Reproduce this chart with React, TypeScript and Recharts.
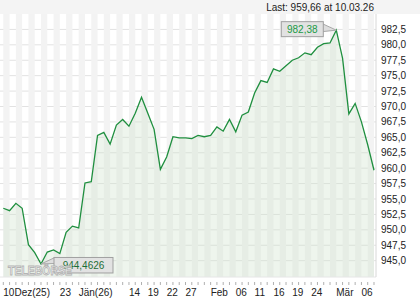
import { Area, CartesianGrid, ComposedChart, ReferenceArea, ReferenceDot, XAxis, YAxis } from "recharts";

const dates = [
  "10.12.25", "11.12.25", "12.12.25", "15.12.25", "16.12.25", "17.12.25", "18.12.25", "19.12.25", "22.12.25", "23.12.25",
  "29.12.25", "30.12.25", "02.01.26", "05.01.26", "06.01.26", "07.01.26", "08.01.26", "09.01.26", "12.01.26", "13.01.26",
  "14.01.26", "15.01.26", "16.01.26", "19.01.26", "20.01.26", "21.01.26", "22.01.26", "23.01.26", "26.01.26", "27.01.26",
  "28.01.26", "29.01.26", "30.01.26", "02.02.26", "03.02.26", "04.02.26", "05.02.26", "06.02.26", "09.02.26", "10.02.26",
  "11.02.26", "12.02.26", "13.02.26", "16.02.26", "17.02.26", "18.02.26", "19.02.26", "20.02.26", "23.02.26", "24.02.26",
  "25.02.26", "26.02.26", "27.02.26", "02.03.26", "03.03.26", "04.03.26", "05.03.26", "06.03.26", "09.03.26", "10.03.26",
];

const closes = [
  953.5, 953.1, 954.3, 953.5, 947.6, 946.3, 944.4626, 946.4, 946.75, 946.15,
  949.6, 950.6, 950.3, 957.6, 957.8, 965.3, 965.8, 963.9, 967.0, 967.9,
  966.8, 968.9, 971.5, 968.9, 966.3, 959.8, 961.8, 965.1, 964.9, 964.9,
  964.8, 965.3, 965.1, 965.3, 966.7, 966.0, 967.9, 965.9, 968.6, 969.1,
  972.2, 974.2, 973.9, 976.1, 975.7, 976.6, 977.5, 977.9, 978.7, 978.4,
  979.6, 980.2, 980.3, 982.38, 977.8, 968.8, 970.5, 967.5, 963.8, 959.66,
];

const tickIndex = [0, 9, 12, 20, 23, 26, 29, 33, 37, 40, 43, 46, 49, 53, 57];
const tickLabels = ["10Dez(25)", "23", "Jän(26)", "14", "19", "22", "27", "Feb", "06", "11", "16", "19", "24", "Mär", "06"];

const yTicks = [945, 947.5, 950, 952.5, 955, 957.5, 960, 962.5, 965, 967.5, 970, 972.5, 975, 977.5, 980, 982.5];

const FONT = "'Liberation Sans', Arial, sans-serif";
const GREEN = "#1f8f3f";

const data = closes.map((v, i) => ({ i, date: dates[i], v }));
const indices = data.map((d) => d.i);
// every other trading day gets a grey column
const stripeStarts = indices.filter((i) => i % 2 === 0 && i < indices.length - 1);
const maxIdx = closes.indexOf(Math.max(...closes));
const minIdx = closes.indexOf(Math.min(...closes));
const lastIdx = closes.length - 1;

const fmt = (v: number) => String(v).replace(".", ",");

function XTick(props: any) {
  const { x, payload } = props;
  const k = tickIndex.indexOf(payload.value);
  return (
    <g>
      <line x1={x} x2={x} y1={282} y2={285} stroke="#b0b0b0" />
      {k >= 0 && (
        <text x={x} y={295.5} fontSize={10} fontFamily={FONT} fill="#222" textAnchor="start">
          {tickLabels[k]}
        </text>
      )}
    </g>
  );
}

function MaxLabel(props: any) {
  const { cx, cy } = props;
  const left = cx - 55;
  const top = cy - 8.5;
  return (
    <g>
      <polygon points={`${cx - 14},${top + 2} ${cx},${cy} ${cx - 14},${top + 10}`} fill="#dedede" stroke="#a8a8a8" />
      <rect x={left} y={top} width={42} height={15} fill="#e2e2e2" stroke="#a0a0a0" />
      <text x={left + 21} y={top + 11} fontSize={10} fontFamily={FONT} fill="#1a9a45" textAnchor="middle">
        {fmt(closes[maxIdx])}
      </text>
    </g>
  );
}

function MinLabel(props: any) {
  const { cx, cy } = props;
  const left = cx + 13;
  const top = cy - 6.5;
  return (
    <g>
      <polygon points={`${left + 1},${top} ${cx},${cy} ${left + 1},${top + 6}`} fill="#dedede" stroke="#a8a8a8" />
      <rect x={left} y={top} width={59} height={15.5} fill="#e2e2e2" stroke="#a0a0a0" />
      <text x={left + 29.5} y={top + 11.5} fontSize={10} fontFamily={FONT} fill="#1d6f36" textAnchor="middle">
        {fmt(closes[minIdx])}
      </text>
    </g>
  );
}

export default function App() {
  return (
    <div style={{ position: "absolute", left: 0, top: 0, width: 420, height: 300, background: "#fff" }}>
      <div style={{ position: "absolute", left: 0, top: 0, width: 420, height: 14, background: "#f4f4f4" }} />
      <ComposedChart width={420} height={300} data={data} margin={{ top: 14, right: 0, bottom: 0, left: 0 }}>
        {stripeStarts.map((i) => (
          <ReferenceArea key={i} x1={i} x2={i + 1} fill="#f3f3f3" fillOpacity={1} stroke="none" />
        ))}
        <CartesianGrid vertical={false} horizontalValues={yTicks} stroke="#e2e2e2" />
        <XAxis
          dataKey="i"
          type="number"
          domain={[-0.525, 59.32]}
          allowDataOverflow
          ticks={indices}
          interval={0}
          height={23}
          tickLine={false}
          axisLine={{ stroke: "#e6e6e6" }}
          tick={<XTick />}
        />
        <YAxis
          orientation="right"
          width={44}
          domain={[942.35, 985]}
          allowDataOverflow
          ticks={yTicks}
          interval={0}
          tickSize={3}
          tickMargin={2}
          tickLine={false}
          axisLine={{ stroke: "#d8d8d8" }}
          tickFormatter={(v: number) => v.toFixed(1).replace(".", ",")}
          tick={{ fill: "#222", fontSize: 10, fontFamily: FONT }}
        />
        <Area
          type="linear"
          dataKey="v"
          stroke={GREEN}
          strokeWidth={1.3}
          fill="#cfe3cc"
          fillOpacity={0.35}
          dot={false}
          activeDot={false}
          isAnimationActive={false}
        />
        <ReferenceDot x={maxIdx} y={closes[maxIdx]} r={0} shape={<MaxLabel />} />
        <ReferenceDot x={minIdx} y={closes[minIdx]} r={0} shape={<MinLabel />} />
      </ComposedChart>
      <svg width={420} height={300} style={{ position: "absolute", left: 0, top: 0, pointerEvents: "none" }}>
        <text x={374} y={11} fontSize={10} fontFamily={FONT} fill="#222" textAnchor="end">
          {`Last: ${fmt(closes[lastIdx])} at ${dates[lastIdx]}`}
        </text>
        <text
          x={8}
          y={274.5}
          fontSize={12}
          fontWeight="bold"
          fontFamily={FONT}
          fill="#ffffff"
          fillOpacity={0.7}
          stroke="#b4b4b4"
          strokeWidth={0.9}
          textLength={64}
          lengthAdjust="spacingAndGlyphs"
        >
          TELEBÖRSE
        </text>
      </svg>
    </div>
  );
}
